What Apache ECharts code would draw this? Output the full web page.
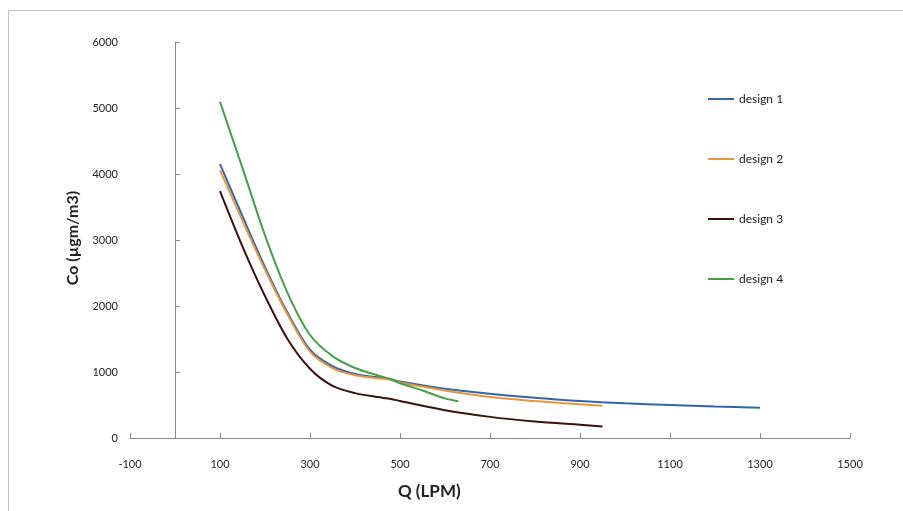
<!DOCTYPE html>
<html>
<head>
<meta charset="utf-8">
<script src="https://cdn.jsdelivr.net/npm/echarts@6/dist/echarts.min.js"></script>
<style>html,body{margin:0;padding:0;background:#fff}#c{width:903px;height:511px}</style>
</head>
<body>
<div id="c"></div>
<script>
const seriesNames = ['design 1', 'design 2', 'design 3', 'design 4'];
const design1 = [[100,4150],[150,3360],[200,2590],[250,1900],[300,1340],[350,1090],[400,970],[450,920],[480,890],[500,855],[600,745],[700,670],[800,610],[900,560],[1000,525],[1100,500],[1200,478],[1300,458]];
const design2 = [[100,4060],[150,3290],[200,2550],[250,1870],[300,1310],[350,1060],[400,950],[450,905],[480,880],[500,840],[600,720],[700,620],[800,560],[900,510],[950,490]];
const design3 = [[100,3740],[150,2900],[200,2150],[250,1500],[300,1050],[350,790],[400,680],[450,620],[480,592],[500,560],[600,420],[700,320],[800,250],[900,200],[950,175]];
const design4 = [[100,5095],[150,4090],[200,3070],[250,2200],[300,1560],[350,1240],[400,1060],[450,950],[480,890],[500,830],[550,720],[600,600],[630,555]];
const xTicks = [-100,100,300,500,700,900,1100,1300,1500];
const colors = ['#3466a6', '#e8953f', '#3f0f0f', '#45a046'];

const chart = echarts.init(document.getElementById('c'));
const font = 'Lato';
const dataSets = [design1, design2, design3, design4];
chart.setOption({
  animation: false,
  backgroundColor: '#fff',
  color: colors,
  grid: {left: 130, right: 53, top: 42, bottom: 73, containLabel: false, outerBoundsMode: 'none'},
  legend: {
    orient: 'vertical', left: 703, top: 88, itemGap: 48,
    icon: 'rect', itemWidth: 26, itemHeight: 2,
    textStyle: {fontFamily: font, fontSize: 12, color: '#222'},
    data: seriesNames
  },
  xAxis: {
    type: 'value', min: -100, max: 1500, interval: 100,
    axisLine: {show: true, lineStyle: {color: '#888', width: 1}},
    axisTick: {show: true, inside: true, length: 5, customValues: xTicks, lineStyle: {color: '#888'}},
    axisLabel: {customValues: xTicks, margin: 21, fontFamily: font, fontSize: 11, color: '#222', formatter: v => String(v)},
    splitLine: {show: false}
  },
  yAxis: {
    type: 'value', min: 0, max: 6000, interval: 1000,
    axisLine: {show: true, onZero: true, lineStyle: {color: '#888', width: 1}},
    axisTick: {show: true, inside: true, length: 5, lineStyle: {color: '#888'}},
    axisLabel: {margin: 12, fontFamily: font, fontSize: 11, color: '#222', formatter: v => String(v)},
    splitLine: {show: false}
  },
  graphic: [
    {type: 'rect', shape: {x: 8.5, y: 10.5, width: 1000, height: 1000}, style: {fill: 'none', stroke: '#c0c0c0', lineWidth: 1}, silent: true, z: -10},
    {type: 'text', left: 398, top: 483, style: {text: 'Q (LPM)', font: 'bold 17px ' + font, fill: '#222'}},
    {type: 'text', x: 73, y: 238, rotation: Math.PI / 2, style: {text: 'Co (µgm/m3)', font: 'bold 16px ' + font, fill: '#222', align: 'center', verticalAlign: 'middle'}}
  ],
  series: dataSets.map((d, i) => ({
    name: seriesNames[i], type: 'line', data: d, smooth: 0.3,
    showSymbol: false, symbol: 'none',
    lineStyle: {width: 2, color: colors[i]}
  }))
});
</script>
</body>
</html>
